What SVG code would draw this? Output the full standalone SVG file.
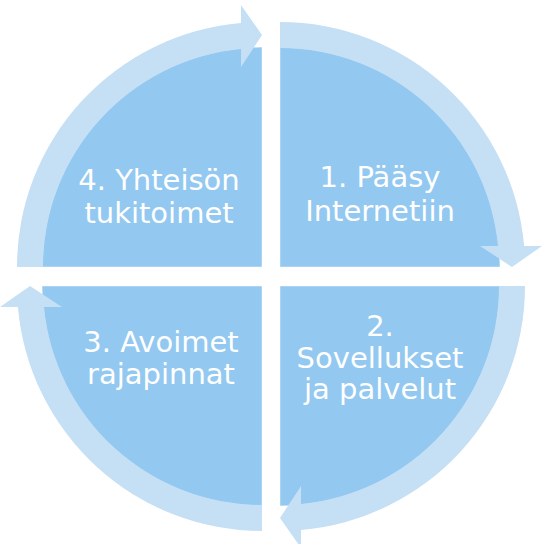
<svg xmlns="http://www.w3.org/2000/svg" width="548" height="544" viewBox="0 0 548 544">
  <defs>
    <style>
      .pie { fill: #93c8f0; stroke: #ffffff; stroke-opacity: 0.45; stroke-width: 1; }
      .arr { fill: #c5dff5; }
      .lbl { font-family: "DejaVu Sans", Verdana, sans-serif; font-size: 29px; fill: #ffffff; text-anchor: middle; }
    </style>
    <path id="pieShape" d="M0,0 L-220,0 A220,220 0 0 1 0,-220 Z"/>
    <path id="arrowShape" d="M-245,0 A245,245 0 0 1 -21,-244.1 L-21,-262 L0,-232 L-21,-200 L-21,-218 A219,219 0 0 0 -219,0 Z"/>
  </defs>
  <rect width="548" height="544" fill="#ffffff"/>

  <g id="node1">
    <use href="#pieShape" class="pie" transform="translate(280,267) rotate(90)"/>
    <text class="lbl" x="380" y="187">1. Pääsy</text>
    <text class="lbl" x="380" y="221">Internetiin</text>
  </g>
  <g id="node2">
    <use href="#pieShape" class="pie" transform="translate(280,286) rotate(180)"/>
    <text class="lbl" x="380" y="336">2.</text>
    <text class="lbl" x="380" y="368">Sovellukset</text>
    <text class="lbl" x="380" y="399">ja palvelut</text>
  </g>
  <g id="node3">
    <use href="#pieShape" class="pie" transform="translate(262,286) rotate(270)"/>
    <text class="lbl" x="161" y="352">3. Avoimet</text>
    <text class="lbl" x="161" y="384">rajapinnat</text>
  </g>
  <g id="node4">
    <use href="#pieShape" class="pie" transform="translate(262,267)"/>
    <text class="lbl" x="159" y="190">4. Yhteisön</text>
    <text class="lbl" x="159" y="223">tukitoimet</text>
  </g>

  <g id="connectors">
    <use href="#arrowShape" class="arr" transform="translate(262,267)"/>
    <use href="#arrowShape" class="arr" transform="translate(280,267) rotate(90)"/>
    <use href="#arrowShape" class="arr" transform="translate(280,286) rotate(180)"/>
    <use href="#arrowShape" class="arr" transform="translate(262,286) rotate(270)"/>
  </g>
</svg>
